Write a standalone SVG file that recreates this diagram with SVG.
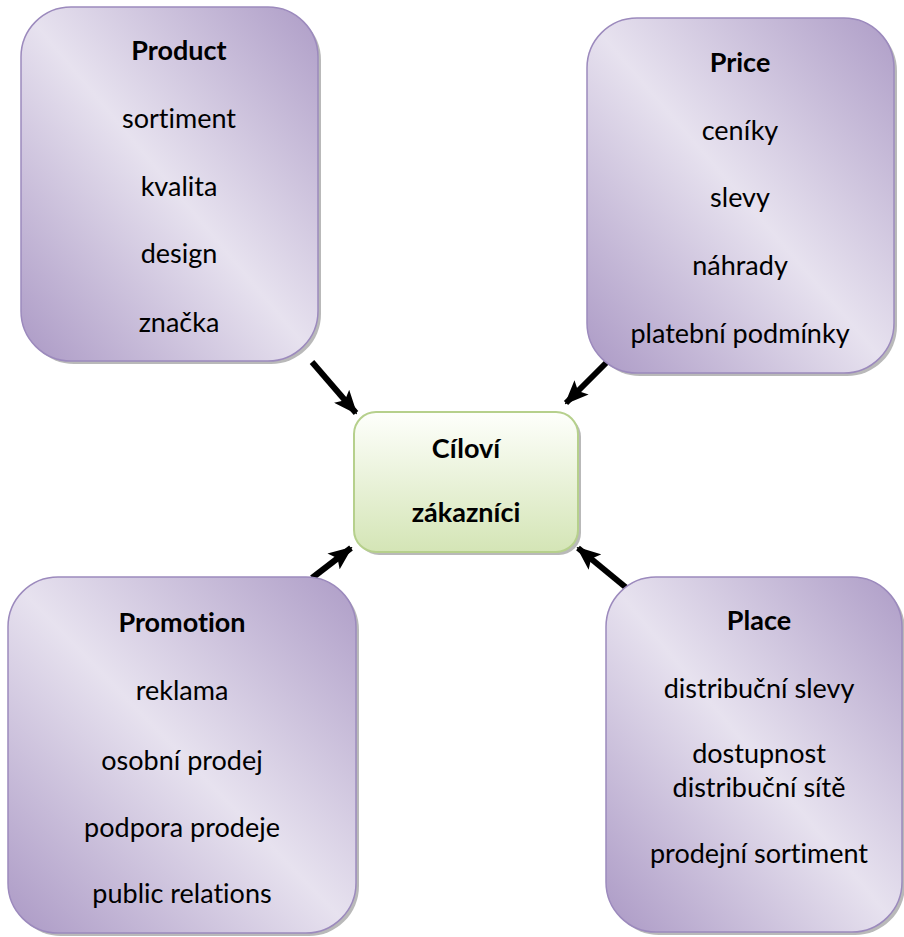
<svg xmlns="http://www.w3.org/2000/svg" width="904" height="937" viewBox="0 0 904 937">
  <defs>
    <linearGradient id="gPurple" x1="0" y1="1" x2="1" y2="0">
      <stop offset="0" stop-color="#ab99c5"/>
      <stop offset="0.5" stop-color="#e7e2ef"/>
      <stop offset="1" stop-color="#ae9dc7"/>
    </linearGradient>
    <linearGradient id="gGreen" x1="0" y1="0" x2="0" y2="1">
      <stop offset="0" stop-color="#fefffc"/>
      <stop offset="1" stop-color="#d4e5b6"/>
    </linearGradient>
    <marker id="arrow" markerUnits="userSpaceOnUse" markerWidth="24" markerHeight="20" viewBox="0 0 24 20" refX="22" refY="10" orient="auto">
      <path d="M0,0 L24,10 L0,20 L5,10 Z" fill="#000"/>
    </marker>
  </defs>
  <style>
    .box { fill: url(#gPurple); stroke: #9c8abd; stroke-width: 1.5; }
    .shadow { fill: #7f7f7f; opacity: 0.55; }
    .center { fill: url(#gGreen); stroke: #b6d08c; stroke-width: 2; }
    .conn { stroke: #000; stroke-width: 6; fill: none; marker-end: url(#arrow); }
    text { font-family: Lato, "Liberation Sans", sans-serif; font-size: 27px; fill: #000; text-anchor: middle; font-variant-ligatures: no-common-ligatures; }
    .title { font-weight: bold; }
  </style>

  <g id="connectors">
    <line class="conn" x1="312" y1="362" x2="356" y2="413"/>
    <line class="conn" x1="607" y1="362" x2="566" y2="403"/>
    <line class="conn" x1="312" y1="578" x2="351" y2="548"/>
    <line class="conn" x1="629" y1="590" x2="578" y2="548"/>
  </g>

  <g id="product">
    <rect class="shadow" x="24" y="10" width="297" height="354" rx="50"/>
    <rect class="box" x="21" y="7" width="297" height="354" rx="50"/>
    <text class="title" x="179" y="60">Product</text>
    <text x="179" y="128">sortiment</text>
    <text x="179" y="196">kvalita</text>
    <text x="179" y="263">design</text>
    <text x="179" y="332">značka</text>
  </g>

  <g id="price">
    <rect class="shadow" x="590" y="21" width="307" height="355" rx="50"/>
    <rect class="box" x="587" y="18" width="307" height="355" rx="50"/>
    <text class="title" x="740" y="72">Price</text>
    <text x="740" y="140">ceníky</text>
    <text x="740" y="207">slevy</text>
    <text x="740" y="275">náhrady</text>
    <text x="740" y="343">platební podmínky</text>
  </g>

  <g id="center">
    <rect class="shadow" x="357" y="415" width="224" height="140" rx="22"/>
    <rect class="center" x="354" y="412" width="224" height="140" rx="22"/>
    <text class="title" x="466" y="458">Cíloví</text>
    <text class="title" x="466" y="522">zákazníci</text>
  </g>

  <g id="promotion">
    <rect class="shadow" x="11" y="580" width="348" height="356" rx="50"/>
    <rect class="box" x="8" y="577" width="348" height="356" rx="50"/>
    <text class="title" x="182" y="632">Promotion</text>
    <text x="182" y="700">reklama</text>
    <text x="182" y="770">osobní prodej</text>
    <text x="182" y="837">podpora prodeje</text>
    <text x="182" y="903">public relations</text>
  </g>

  <g id="place">
    <rect class="shadow" x="609" y="580" width="296" height="355" rx="50"/>
    <rect class="box" x="606" y="577" width="296" height="355" rx="50"/>
    <text class="title" x="759" y="630">Place</text>
    <text x="759" y="698">distribuční slevy</text>
    <text x="759" y="763">dostupnost</text>
    <text x="759" y="797">distribuční sítě</text>
    <text x="759" y="863">prodejní sortiment</text>
  </g>
</svg>
